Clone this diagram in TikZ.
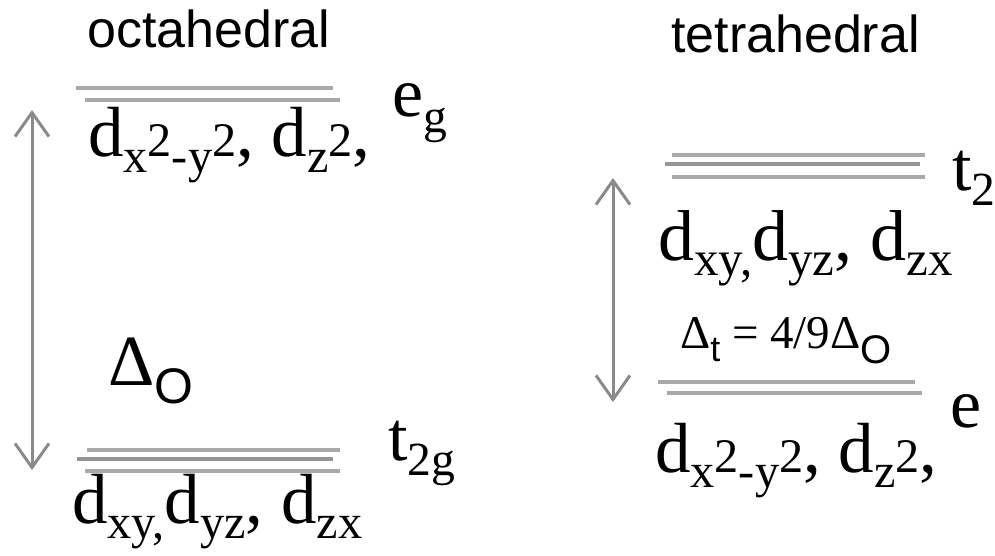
\documentclass[tikz,border=0pt]{standalone}
\usepackage{fontspec}
\setmainfont{Liberation Serif}
\newfontfamily\arialf{Liberation Sans}
\usetikzlibrary{arrows.meta}
\definecolor{levelgray}{HTML}{A9A9A9}
\definecolor{leveldark}{HTML}{959595}
\definecolor{arrowgray}{HTML}{8A8A8A}
\newcommand\fs[1]{\fontsize{#1}{#1}\selectfont}
\newcommand\lsub[1]{\raisebox{-0.22em}{\scalebox{0.68}{#1}}}
\newcommand\stwo{\scalebox{0.68}{2}}
\begin{document}
\begin{tikzpicture}[x=1pt,y=-1pt,
  lvl/.style={line width=3.5pt, draw=levelgray},
  lvldark/.style={line width=3.5pt, draw=leveldark},
  splitarrow/.style={line width=3pt, draw=arrowgray,
    {Straight Barb[length=24pt,width=34pt,line width=3pt]}-{Straight Barb[length=24pt,width=34pt,line width=3pt]}},
  titletext/.style={anchor=base west, inner sep=0, font=\arialf\fs{52}},
  orbtext/.style={anchor=base west, inner sep=0},
  symtext/.style={anchor=base west, inner sep=0, font=\fs{70}}
]
\useasboundingbox (0,0) rectangle (995,556);

% titles
\node[titletext] (octa) at (87,48) {octahedral};
\node[titletext] (tetra) at (671,53) {tetrahedral};

% ---- octahedral ----
\coordinate (eg1a) at (76,88);  \coordinate (eg1b) at (333,88);
\coordinate (eg2a) at (85,100); \coordinate (eg2b) at (340,100);
\draw[lvl] (eg1a) -- (eg1b);
\draw[lvl] (eg2a) -- (eg2b);
\node[orbtext, font=\fs{71}] (eglab) at (88,157)
  {d\lsub{x}\stwo\lsub{-y}\stwo, d\lsub{z}\stwo,};
\node[symtext] (eg) at (392,117) {e\lsub{g}};

\coordinate (t1a) at (87,450);  \coordinate (t1b) at (340,450);
\coordinate (t2a) at (77,459);  \coordinate (t2b) at (333,459);
\coordinate (t3a) at (85,471);  \coordinate (t3b) at (340,471);
\draw[lvl] (t1a) -- (t1b);
\draw[lvldark] (t2a) -- (t2b);
\draw[lvl] (t3a) -- (t3b);
\node[orbtext, font=\fs{71}] (t2glab) at (72,523)
  {d\lsub{xy,}d\lsub{yz}, d\lsub{zx}};
\node[symtext] (t2g) at (388,460) {t\lsub{2g}};

\coordinate (oTop) at (32,110);
\coordinate (oBot) at (32,470);
\draw[splitarrow] (oTop) -- (oBot);
\node[orbtext] (dO) at (108,385) {\fs{72}Δ\raisebox{-18pt}{\arialf\fs{50}O}};

% ---- tetrahedral ----
\coordinate (u1a) at (672,155); \coordinate (u1b) at (925,155);
\coordinate (u2a) at (665,164); \coordinate (u2b) at (920,164);
\coordinate (u3a) at (672,177); \coordinate (u3b) at (925,177);
\draw[lvl] (u1a) -- (u1b);
\draw[lvldark] (u2a) -- (u2b);
\draw[lvl] (u3a) -- (u3b);
\node[orbtext, font=\fs{72}] (t2lab) at (658,260)
  {d\lsub{xy,}d\lsub{yz}, d\lsub{zx}};
\node[symtext] (t2) at (952,190) {t\lsub{2}};

\coordinate (v1a) at (658,382); \coordinate (v1b) at (915,382);
\coordinate (v2a) at (667,393); \coordinate (v2b) at (922,393);
\draw[lvl] (v1a) -- (v1b);
\draw[lvl] (v2a) -- (v2b);
\node[orbtext, font=\fs{71}] (elab) at (655,472)
  {d\lsub{x}\stwo\lsub{-y}\stwo, d\lsub{z}\stwo,};
\node[symtext] (e) at (950,427) {e};

\coordinate (tTop) at (613,178);
\coordinate (tBot) at (613,402);
\draw[splitarrow] (tTop) -- (tBot);
\node[orbtext] (dt) at (680,348)
  {\fs{47}Δ\raisebox{-13pt}{\arialf\fs{36}t} = 4/9Δ\raisebox{-15pt}{\arialf\fs{40}O}};
\end{tikzpicture}
\end{document}
